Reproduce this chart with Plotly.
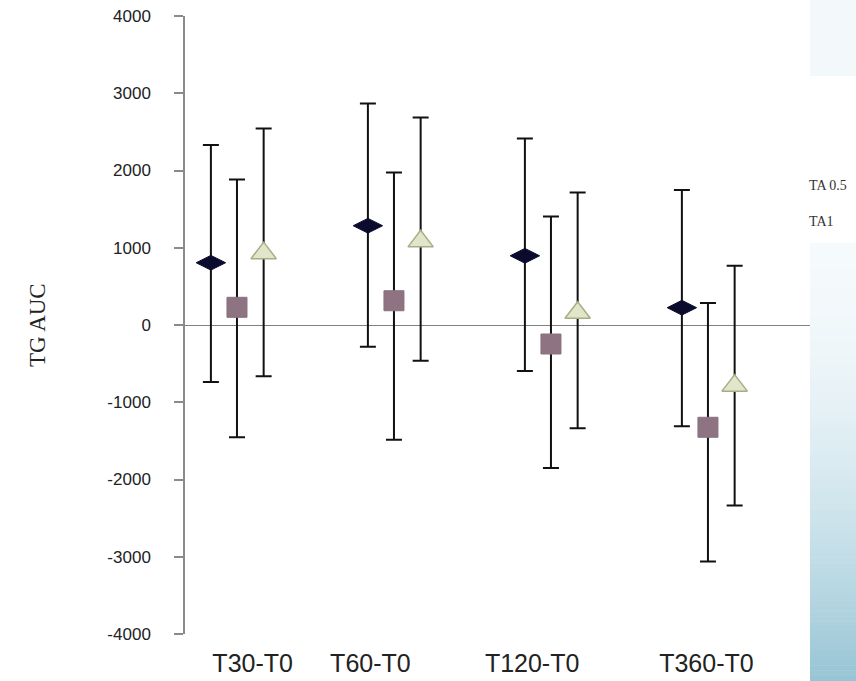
import plotly.graph_objects as go

# ---- data ----
categories = ["T30-T0", "T60-T0", "T120-T0", "T360-T0"]
group_pos = [1, 2, 3, 4]
label_pos = [1.10, 1.85, 2.88, 3.99]

series_names = ["Control", "TA 0.5", "TA1"]
ctrl_mean = [806, 1285, 896, 224]
ctrl_hi = [2330, 2868, 2415, 1746]
ctrl_lo = [-737, -281, -595, -1311]

ta05_mean = [229, 314, -246, -1324]
ta05_hi = [1885, 1975, 1406, 285]
ta05_lo = [-1453, -1484, -1850, -3062]

ta1_mean = [930, 1083, 158, -785]
ta1_hi = [2545, 2687, 1716, 767]
ta1_lo = [-664, -462, -1337, -2337]

y_ticks = [-4000, -3000, -2000, -1000, 0, 1000, 2000, 3000, 4000]
y_ticktext = ["-4000", "-3000", "-2000", "-1000", "0", "1000", "2000", "3000", "4000"]

# ---- figure ----
W, H = 856, 681
L, R, T, B = 185, 46, 16, 47

series = [
    (series_names[0], ctrl_mean, ctrl_hi, ctrl_lo, -0.166,
     dict(symbol="diamond-wide", size=21, color="#0b0b2e", line=dict(color="#0b0b2e", width=1))),
    (series_names[1], ta05_mean, ta05_hi, ta05_lo, 0.0,
     dict(symbol="square", size=20, color="#8e7482", line=dict(color="#86707c", width=1))),
    (series_names[2], ta1_mean, ta1_hi, ta1_lo, 0.170,
     dict(symbol="triangle-up", size=22, color="#e1e5c9", line=dict(color="#a8ad86", width=1.5))),
]

fig = go.Figure()
for name, m, hi, lo, off, mk in series:
    fig.add_trace(go.Scatter(
        x=[g + off for g in group_pos],
        y=m,
        mode="markers",
        name=name,
        marker=mk,
        showlegend=False,
        error_y=dict(
            type="data", symmetric=False,
            array=[h - v for h, v in zip(hi, m)],
            arrayminus=[v - l for v, l in zip(m, lo)],
            color="#111111", thickness=2, width=8,
        ),
    ))

# right-hand panel (cropped legend area with background gradient)
shapes = []
def px2paper_x(px):
    return (px - L) / (W - L - R)
def px2paper_y(py):
    return 1 - (py - T) / (H - T - B)

shapes.append(dict(type="rect", xref="paper", yref="paper",
                   x0=px2paper_x(810), x1=px2paper_x(860), y0=px2paper_y(76), y1=px2paper_y(-5),
                   fillcolor="#f3f8fb", line=dict(width=0), layer="above"))
shapes.append(dict(type="rect", xref="paper", yref="paper",
                   x0=px2paper_x(810), x1=px2paper_x(860), y0=px2paper_y(243), y1=px2paper_y(76),
                   fillcolor="#ffffff", line=dict(width=0), layer="above"))
c0 = (245, 250, 252)
c1 = (150, 196, 212)
n = 90
y_start, y_end = 243, 685
for i in range(n):
    t = (i / (n - 1)) ** 1.8
    col = tuple(int(round(a + (b - a) * t)) for a, b in zip(c0, c1))
    ya = y_start + (y_end - y_start) * i / n
    yb = y_start + (y_end - y_start) * (i + 1) / n + 0.5
    shapes.append(dict(type="rect", xref="paper", yref="paper",
                       x0=px2paper_x(810), x1=px2paper_x(860),
                       y0=px2paper_y(yb), y1=px2paper_y(ya),
                       fillcolor="rgb(%d,%d,%d)" % col, line=dict(width=0), layer="above"))

annotations = [
    dict(text="TG AUC", textangle=-90, xref="paper", yref="paper",
         x=px2paper_x(37), y=px2paper_y(325), xanchor="center", yanchor="middle",
         showarrow=False, font=dict(family="Liberation Serif", size=23, color="#222222")),
    dict(text="TA 0.5", xref="paper", yref="paper",
         x=px2paper_x(807), y=px2paper_y(185), xanchor="left", yanchor="middle",
         showarrow=False, font=dict(family="Liberation Serif", size=14, color="#333333")),
    dict(text="TA1", xref="paper", yref="paper",
         x=px2paper_x(807), y=px2paper_y(221), xanchor="left", yanchor="middle",
         showarrow=False, font=dict(family="Liberation Serif", size=14, color="#333333")),
]

fig.update_layout(
    width=W, height=H,
    margin=dict(l=L, r=R, t=T, b=B, autoexpand=False),
    paper_bgcolor="#ffffff", plot_bgcolor="#ffffff",
    shapes=shapes, annotations=annotations,
    xaxis=dict(
        range=[0.669, 4.65], showgrid=False, zeroline=False, showline=False,
        tickvals=label_pos, ticktext=categories, ticks="",
        tickfont=dict(family="Liberation Sans", size=25, color="#222222"),
        ticklabelstandoff=12, automargin=False,
    ),
    yaxis=dict(
        range=[-4000, 4000], tickvals=y_ticks, ticktext=y_ticktext, showgrid=False,
        zeroline=True, zerolinecolor="#808080", zerolinewidth=1,
        showline=True, linecolor="#8a8a8a", linewidth=1.5,
        ticks="outside", ticklen=9, tickcolor="#8a8a8a", tickwidth=1.5,
        tickfont=dict(family="Liberation Sans", size=17, color="#222222"),
        ticklabelstandoff=20, automargin=False,
    ),
)

fig.write_html("out.html")
